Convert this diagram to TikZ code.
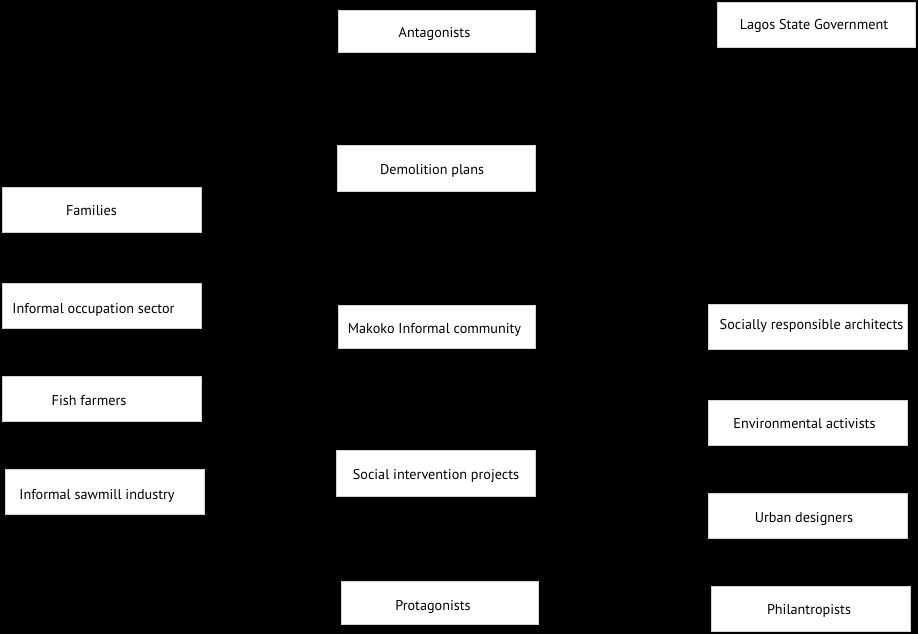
\documentclass[tikz,border=0pt]{standalone}
\usepackage{fontspec}
\setmainfont{PT Sans}
\begin{document}
\begin{tikzpicture}[x=1pt,y=-1pt,
  box/.style={fill=white,draw=gray!35,line width=0.6pt,inner sep=0pt,minimum width=#1,minimum height=45pt},
  box/.default=198pt,
  lbl/.style={inner sep=0pt,yshift=-2pt,font=\fontsize{14.2}{16}\selectfont,text=black}]
\fill[black] (0,0) rectangle (918,634);
\useasboundingbox (0,0) rectangle (918,634);
% centre column
\node[box=197pt,minimum height=42pt] (ant) at (436.5,31) {};
\node[lbl] (antT) at (434.5,32) {Antagonists};
\node[box=198pt,minimum height=46pt] (dem) at (436.3,168) {};
\node[lbl] (demT) at (432,169) {Demolition plans};
\node[box=197pt,minimum height=43pt] (mak) at (436.3,326.8) {};
\node[lbl] (makT) at (434.5,328) {Makoko Informal community};
\node[box=199pt,minimum height=46pt] (soc) at (436.2,472.8) {};
\node[lbl] (socT) at (436,474) {Social intervention projects};
\node[box=197pt,minimum height=43pt] (pro) at (439.8,603) {};
\node[lbl] (proT) at (433,605) {Protagonists};
% left column
\node[box=199pt] (fam) at (101.8,209.8) {};
\node[lbl] (famT) at (91.5,208.5) {Families};
\node[box=199pt] (occ) at (101.8,305.8) {};
\node[lbl] (occT) at (93.5,307.5) {Informal occupation sector};
\node[box=199pt] (fish) at (101.8,398.5) {};
\node[lbl] (fishT) at (89,398.5) {Fish farmers};
\node[box=199pt] (saw) at (104.5,491.7) {};
\node[lbl] (sawT) at (97,494) {Informal sawmill industry};
% right column
\node[box=198pt] (lag) at (816.2,25.3) {};
\node[lbl] (lagT) at (814,23.5) {Lagos State Government};
\node[box=199pt] (arc) at (808,327) {};
\node[lbl] (arcT) at (811.5,324) {Socially responsible architects};
\node[box=199pt] (env) at (808,422.5) {};
\node[lbl] (envT) at (804.5,421.5) {Environmental activists};
\node[box=199pt] (urb) at (808,515.8) {};
\node[lbl] (urbT) at (804,516.5) {Urban designers};
\node[box=199pt] (phi) at (810.8,608.8) {};
\node[lbl] (phiT) at (809,609) {Philantropists};
\end{tikzpicture}
\end{document}
